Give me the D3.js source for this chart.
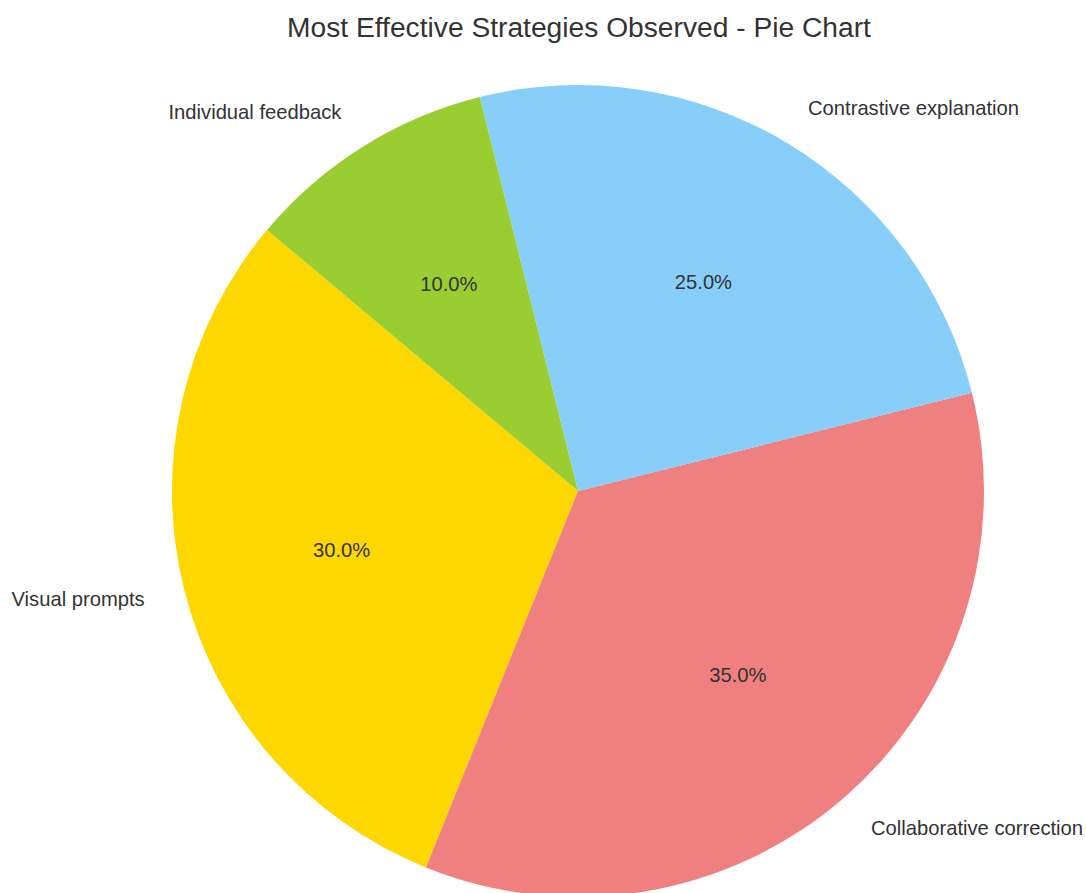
<!DOCTYPE html>
<html>
<head>
<meta charset="utf-8">
<script src="https://cdn.jsdelivr.net/npm/d3@7"></script>
<style>
  html, body { margin: 0; padding: 0; background: #fff; }
  svg { display: block; font-family: "Liberation Sans", Arial, sans-serif; }
</style>
</head>
<body>
<svg id="chart" width="1086" height="893"></svg>
<script>
// Strategy shares, drawn counter-clockwise from 140 degrees
const categories = ["Visual prompts", "Collaborative correction", "Contrastive explanation", "Individual feedback"];
const values = [30, 35, 25, 10];
const colors = ["#FFD700", "#F08080", "#87CEFA", "#9ACD32"];

const W = 1086, H = 893;
const cx = 578, cy = 491, R = 406;
const svg = d3.select("#chart");

svg.append("text")
  .attr("x", 579).attr("y", 27)
  .attr("text-anchor", "middle").attr("dominant-baseline", "central")
  .attr("font-size", 28.2).attr("fill", "#333")
  .text("Most Effective Strategies Observed - Pie Chart");

const total = d3.sum(values);
const startDeg = 140;
// Angles measured CCW from +x (math convention)
const data = [];
let acc = startDeg;
values.forEach((v, i) => {
  const span = v / total * 360;
  data.push({ name: categories[i], value: v, color: colors[i], a0: acc, a1: acc + span });
  acc += span;
});

const toRad = d => d * Math.PI / 180;
// d3.arc uses clockwise angle from 12 o'clock: theta = 90 - mathDeg
const arc = d3.arc().innerRadius(0).outerRadius(R);

const g = svg.append("g").attr("transform", `translate(${cx},${cy})`);

g.selectAll("path").data(data).join("path")
  .attr("d", d => arc({ startAngle: toRad(90 - d.a1), endAngle: toRad(90 - d.a0) }))
  .attr("fill", d => d.color);

const pct = d3.format(".1f");
data.forEach(d => {
  const mid = toRad((d.a0 + d.a1) / 2);
  const lx = 1.1 * R * Math.cos(mid), ly = -1.1 * R * Math.sin(mid);
  g.append("text")
    .attr("x", lx).attr("y", ly)
    .attr("text-anchor", lx < 0 ? "end" : "start")
    .attr("dominant-baseline", "central")
    .attr("font-size", 20.2).attr("fill", "#333")
    .text(d.name);
  const px = 0.6 * R * Math.cos(mid), py = -0.6 * R * Math.sin(mid);
  g.append("text")
    .attr("x", px).attr("y", py)
    .attr("text-anchor", "middle").attr("dominant-baseline", "central")
    .attr("font-size", 20.2).attr("fill", "#333")
    .text(pct(d.value / total * 100) + "%");
});
</script>
</body>
</html>
